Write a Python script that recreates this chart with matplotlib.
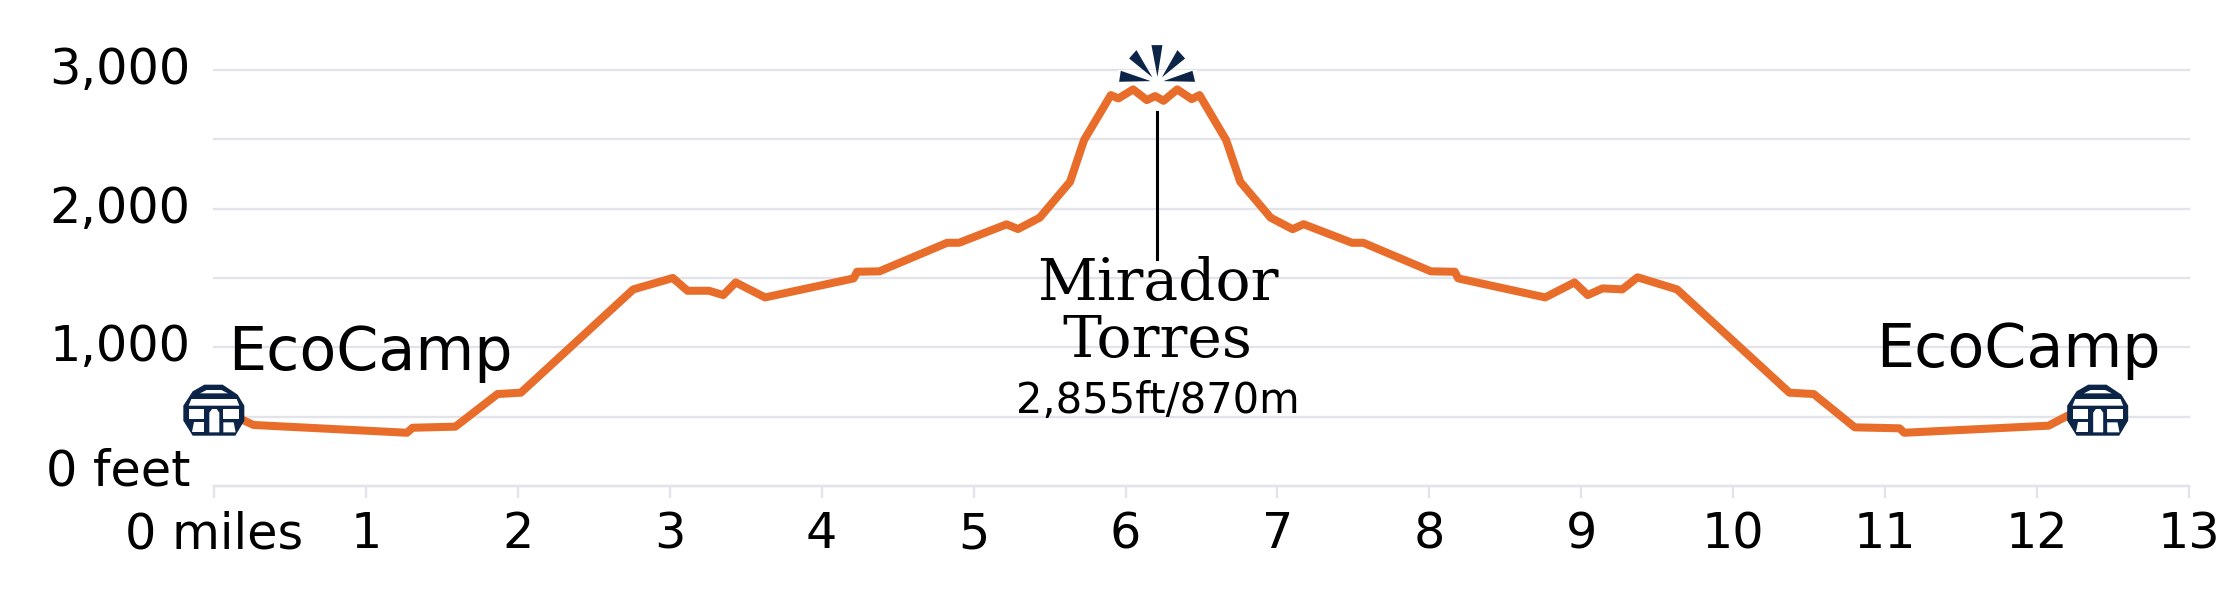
import matplotlib
matplotlib.use('Agg')
import matplotlib.pyplot as plt
from matplotlib.patches import Polygon
from matplotlib.transforms import Affine2D

# elevation profile, miles / feet
miles = [0, 0.19, 0.26, 1.27, 1.307, 1.589, 1.866, 2.02, 2.76, 3.02, 3.117, 3.258, 3.352, 3.434,
         3.627, 4.21, 4.233, 4.38, 4.826, 4.904, 5.217, 5.292, 5.435, 5.635, 5.727, 5.903, 5.953,
         6.05, 6.14, 6.195, 6.25, 6.34, 6.436, 6.487, 6.662, 6.755, 6.955, 7.1, 7.172, 7.49, 7.565,
         8.01, 8.167, 8.19, 8.762, 8.955, 9.042, 9.14, 9.27, 9.37, 9.63, 10.37, 10.53, 10.8,
         11.095, 11.126, 12.076, 12.21, 12.4]
feet = [548, 476, 440, 384, 420, 428, 663, 673, 1418, 1500, 1408, 1408, 1377, 1468,
        1360, 1497, 1545, 1548, 1754, 1754, 1887, 1853, 1935, 2194, 2495, 2819, 2795,
        2860, 2783, 2812, 2778, 2860, 2790, 2819, 2495, 2194, 1935, 1852, 1888, 1754, 1754,
        1548, 1545, 1497, 1360, 1468, 1377, 1425, 1418, 1505, 1418, 673, 663, 423,
        416, 384, 435, 512, 548]

x_ticks = list(range(14))
x_labels = ['0 miles'] + [str(m) for m in range(1, 14)]
y_ticks = [0, 500, 1000, 1500, 2000, 2500, 3000]
y_labels = ['0 feet', '', '1,000', '', '2,000', '', '3,000']

camps = [0, 12.4]
camp_feet = [548, 548]
peak_mile = 6.21

ORANGE = '#e96d2a'
NAVY = '#0b2447'
GRID = '#e2e4e9'
SANS = ['DejaVu Sans']
SERIF = ['DejaVu Serif']

W, H = 2240, 600
fig = plt.figure(figsize=(W / 100, H / 100), dpi=100)
ax = fig.add_axes([214 / W, 1 - 486 / H, (2189 - 214) / W, (486 - 70) / H])
ax.set_xlim(0, 13)
ax.set_ylim(0, 3000)

for s in ['top', 'right', 'left']:
    ax.spines[s].set_visible(False)
ax.spines['bottom'].set_color(GRID)
ax.spines['bottom'].set_linewidth(1.7)

ax.set_xticks(x_ticks, x_labels, fontsize=35.5, family=SANS)
ax.set_yticks(y_ticks, y_labels, fontsize=35.5, family=SANS)
ax.tick_params(axis='x', length=8.6, width=1.7, color=GRID, pad=9, labelcolor='black')
ax.tick_params(axis='y', length=0, pad=17, labelcolor='black')
for t in ax.yaxis.get_major_ticks():
    t.label1.set_va('center')
ax.yaxis.get_major_ticks()[0].label1.set_va('baseline')
ax.grid(axis='y', color=GRID, lw=1.7, zorder=0)
ax.set_axisbelow(True)
for gl in ax.get_ygridlines():
    gl.set_clip_on(False)

ax.plot(miles, feet, color=ORANGE, lw=5.8, solid_joinstyle='round', zorder=3, clip_on=False)
ax.plot([peak_mile, peak_mile], [2700, 1640], color='black', lw=2.2, zorder=3)


def px_transform(mile, ft):
    # icon pieces are drawn in pixels around a data point
    cx, cy = ax.transData.transform((mile, ft))
    return Affine2D().scale(1 / 3, -1 / 3).translate(cx, cy)


def draw_camp(mile, ft):
    tr = px_transform(mile, ft)
    outer = [(-29, -76), (26, -76), (71, -46), (91, -13), (91, 32), (64, 77), (-64, 77), (-92, 32), (-92, -13), (-64, -56)]
    holes = [
        [(-22, -60), (22, -60), (42, -50), (-42, -50)],
        [(-68, -33), (68, -33), (76, -13), (-76, -13)],
        [(-76, -3), (-29, -3), (-29, 27), (-76, 27)],
        [(28, -3), (76, -3), (76, 27), (28, 27)],
        [(-59, 37), (-29, 37), (-29, 67), (-65, 67)],
        [(28, 37), (59, 37), (65, 67), (28, 67)],
        [(-14, 8), (-6, -3), (8, -3), (16, 8), (16, 67), (-14, 67)],
    ]
    ax.add_patch(Polygon(outer, closed=True, fc=NAVY, ec='none', transform=tr, zorder=5, clip_on=False))
    for h in holes:
        ax.add_patch(Polygon(h, closed=True, fc='white', ec='none', transform=tr, zorder=6, clip_on=False))


def draw_burst(mile, ft):
    tr = px_transform(mile, ft)
    rays = [
        [(-18, -110), (15, -110), (0, -15)],
        [(-63, -95), (-85, -70), (-15, -13)],
        [(60, -95), (83, -70), (13, -13)],
        [(-110, -33), (-115, 0), (-20, -2)],
        [(105, -33), (113, 0), (18, -2)],
    ]
    ax.add_patch(Polygon([(-118, 6), (-118, -40), (-70, -100), (0, -118), (70, -100), (118, -40), (118, 6)],
                         closed=True, fc='white', ec='none', transform=tr, zorder=2))
    for r in rays:
        ax.add_patch(Polygon(r, closed=True, fc=NAVY, ec='none', transform=tr, zorder=4, clip_on=False))


for m, f in zip(camps, camp_feet):
    draw_camp(m, f)
draw_burst(peak_mile, 2915)

ax.text(0.092, 836, 'EcoCamp', fontsize=43.5, family=SANS, ha='left', va='baseline', zorder=4)
ax.text(12.81, 858, 'EcoCamp', fontsize=43.5, family=SANS, ha='right', va='baseline', zorder=4)
ax.text(peak_mile, 1341, 'Mirador', fontsize=42, family=SERIF, ha='center', va='baseline', zorder=4)
ax.text(peak_mile, 930, 'Torres', fontsize=42, family=SERIF, ha='center', va='baseline', zorder=4)
ax.text(peak_mile, 526, '2,855ft/870m', fontsize=30, family=SANS, ha='center', va='baseline', zorder=4)

fig.savefig('out.png', dpi=100, facecolor='white')
